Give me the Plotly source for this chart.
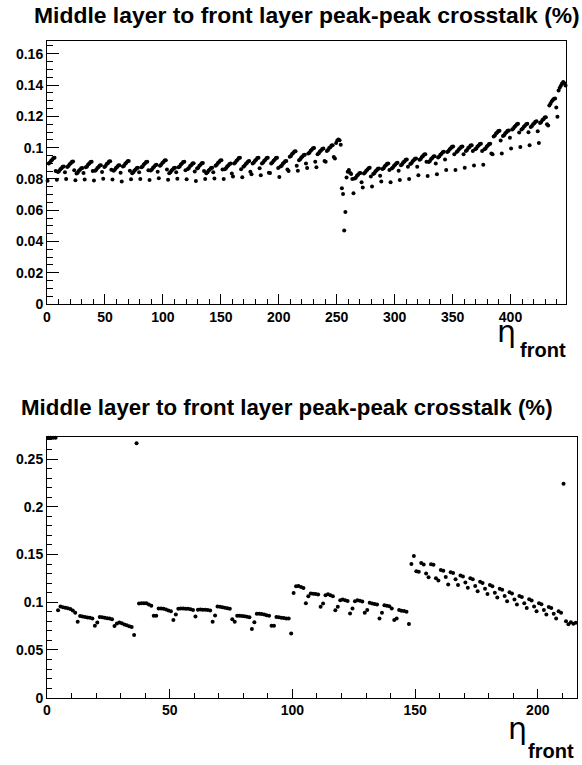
import plotly.graph_objects as go

# ---------------- data: top panel (448 front strips, 8 strips per row) ----------------
top_section_a = [  # channels 0-255
    [.0788, .0899, .0905, .0917, .0923, .0933, .0935, .0850],
    [.0795, .0844, .0850, .0862, .0868, .0878, .0880, .0842],
    [.0800, .0876, .0882, .0894, .0900, .0910, .0912, .0855],
    [.0792, .0834, .0840, .0852, .0858, .0868, .0870, .0838],
    [.0797, .0874, .0880, .0892, .0898, .0908, .0910, .0850],
    [.0790, .0852, .0858, .0870, .0876, .0886, .0888, .0845],
    [.0801, .0877, .0883, .0895, .0901, .0911, .0913, .0858],
    [.0796, .0852, .0858, .0870, .0876, .0886, .0888, .0840],
    [.0783, .0879, .0885, .0897, .0903, .0913, .0915, .0852],
    [.0798, .0836, .0842, .0854, .0860, .0870, .0872, .0843],
    [.0800, .0874, .0880, .0892, .0898, .0908, .0910, .0856],
    [.0793, .0854, .0860, .0872, .0878, .0888, .0890, .0846],
    [.0804, .0884, .0890, .0902, .0908, .0918, .0920, .0860],
    [.0795, .0836, .0842, .0854, .0860, .0870, .0872, .0842],
    [.0801, .0874, .0880, .0892, .0898, .0908, .0910, .0855],
    [.0798, .0864, .0870, .0882, .0888, .0898, .0900, .0848],
    [.0786, .0866, .0872, .0884, .0890, .0900, .0902, .0850],
    [.0800, .0836, .0842, .0854, .0860, .0870, .0872, .0842],
    [.0802, .0884, .0890, .0902, .0908, .0918, .0920, .0860],
    [.0800, .0862, .0868, .0880, .0886, .0896, .0898, .0835],
    [.0815, .0899, .0905, .0917, .0923, .0933, .0935, .0862],
    [.0810, .0878, .0884, .0896, .0902, .0912, .0914, .0846],
    [.0830, .0899, .0905, .0917, .0923, .0933, .0935, .0868],
    [.0823, .0899, .0905, .0917, .0923, .0933, .0935, .0840],
    [.0838, .0899, .0905, .0917, .0923, .0933, .0935, .0870],
    [.0813, .0879, .0885, .0897, .0903, .0913, .0915, .0860],
    [.0850, .0941, .0947, .0959, .0965, .0975, .0977, .0885],
    [.0852, .0919, .0925, .0937, .0943, .0953, .0955, .0899],
    [.0870, .0962, .0968, .0980, .0986, .0996, .0998, .0910],
    [.0874, .0958, .0964, .0976, .0982, .0992, .0994, .0915],
    [.0910, .0979, .0985, .0997, .1003, .1013, .1015, .0940],
    [.0931, .1030, .1045, .1052, .1048, .1019, .0741, .0703],
]
top_section_b = [  # channels 256-383
    [.0471, .0589, .0809, .0846, .0857, .0840, .0832, .0800],
    [.0709, .0802, .0808, .0820, .0826, .0836, .0838, .0779],
    [.0745, .0835, .0841, .0853, .0859, .0869, .0871, .0815],
    [.0752, .0831, .0837, .0849, .0855, .0865, .0867, .0820],
    [.0783, .0863, .0869, .0881, .0887, .0897, .0899, .0857],
    [.0779, .0867, .0873, .0885, .0891, .0901, .0903, .0853],
    [.0793, .0888, .0894, .0906, .0912, .0922, .0924, .0878],
    [.0800, .0895, .0901, .0913, .0919, .0929, .0931, .0878],
    [.0823, .0922, .0928, .0940, .0946, .0956, .0958, .0910],
    [.0819, .0909, .0915, .0927, .0933, .0943, .0945, .0899],
    [.0830, .0937, .0943, .0955, .0961, .0971, .0973, .0924],
    [.0857, .0972, .0978, .0990, .0996, .1006, .1008, .0958],
    [.0857, .0972, .0978, .0990, .0996, .1006, .1008, .0958],
    [.0872, .0979, .0985, .0997, .1003, .1013, .1015, .0979],
    [.0886, .0989, .0995, .1007, .1013, .1023, .1025, .0979],
    [.0890, .0989, .0995, .1007, .1013, .1023, .1025, .0962],
]
top_section_c = [  # channels 384-447
    [.0958, .1072, .1078, .1090, .1096, .1106, .1108, .1046],
    [.0962, .1074, .1080, .1092, .1098, .1108, .1110, .1063],
    [.0994, .1116, .1122, .1134, .1140, .1150, .1152, .1096],
    [.1004, .1116, .1122, .1134, .1140, .1150, .1152, .1099],
    [.1015, .1132, .1138, .1150, .1156, .1166, .1168, .1105],
    [.1029, .1158, .1164, .1176, .1182, .1192, .1194, .1150],
    [.1141, .1270, .1280, .1295, .1305, .1312, .1314, .1257],
    [.1198, .1365, .1383, .1395, .1410, .1419, .1412, .1398],
]

# ---------------- data: bottom panel (216 front strips) ----------------
bottom_section_d = [  # channels 0-35
    .2722, .2722, .2722, .2722, .0916, .0955, .0948, .0942, .0936, .0928,
    .0912, .0889, .0795, .0855, .0850, .0846, .0840, .0836, .0828, .0754,
    .0786, .0845, .0842, .0838, .0833, .0828, .0822, .0751, .0778, .0786,
    .0780, .0765, .0758, .0748, .0740, .0657,
]
bottom_section_e = [  # channels 36-99
    .2665, .0985, .0990, .0990, .0988, .0975, .0962, .0858, .0858, .0934,
    .0934, .0930, .0924, .0912, .0905, .0814, .0872, .0930, .0934, .0935,
    .0932, .0930, .0926, .0918, .0850, .0920, .0924, .0922, .0920, .0918,
    .0912, .0795, .0860, .0955, .0952, .0948, .0942, .0936, .0930, .0820,
    .0795, .0858, .0857, .0855, .0852, .0848, .0842, .0720, .0790, .0880,
    .0878, .0875, .0870, .0864, .0858, .0754, .0754, .0845, .0842, .0838,
    .0834, .0830, .0830, .0671,
]
bottom_section_f = [  # channels 100-147
    .1096, .1168, .1170, .1160, .1148, .0988, .1062, .1092, .1089, .1086,
    .1080, .0951, .0986, .1072, .1082, .1072, .1062, .0916, .0951, .1020,
    .1027, .1020, .1013, .0882, .0934, .1010, .1020, .1015, .1008, .0889,
    .0917, .0993, .0986, .0980, .0976, .0830, .0889, .0969, .0962, .0958,
    .0934, .0813, .0830, .0917, .0910, .0907, .0900, .0771,
]
bottom_section_g = [  # channels 148-215
    .1400, .1485, .1325, .1320, .1410, .1395, .1300, .1262, .1397, .1392,
    .1250, .1228, .1338, .1330, .1265, .1186, .1314, .1305, .1240, .1180,
    .1280, .1268, .1205, .1150, .1250, .1240, .1170, .1115, .1215, .1200,
    .1140, .1085, .1180, .1168, .1100, .1048, .1140, .1130, .1065, .1010,
    .1105, .1092, .1028, .0975, .1065, .1055, .0990, .0940, .1030, .1018,
    .0955, .0905, .0990, .0978, .0918, .0870, .0950, .0938, .0880, .0830,
    .0905, .0890, .2240, .0800, .0770, .0790, .0775, .0785,
]

title_text = "Middle layer to front layer peak-peak crosstalk (%)"
top_ticks_x = [0, 50, 100, 150, 200, 250, 300, 350, 400]
bottom_ticks_x = [0, 50, 100, 150, 200]

# ---------------- assemble ----------------
top_values = [v for sec in (top_section_a, top_section_b, top_section_c) for row in sec for v in row]
bottom_values = bottom_section_d + bottom_section_e + bottom_section_f + bottom_section_g
top_x = [i + 0.5 for i in range(len(top_values))]
bottom_x = [i + 0.5 for i in range(len(bottom_values))]

W, H = 582, 765
FONT = "Liberation Sans, Arial, sans-serif"

fig = go.Figure()
marker = dict(color="black", size=4, line=dict(width=0))
fig.add_trace(go.Scatter(x=top_x, y=top_values, mode="markers", marker=marker,
                         xaxis="x", yaxis="y", showlegend=False, cliponaxis=False))
fig.add_trace(go.Scatter(x=bottom_x, y=bottom_values, mode="markers", marker=marker,
                         xaxis="x2", yaxis="y2", showlegend=False, cliponaxis=False))

tickfont = dict(family=FONT, size=14, color="black", weight="bold")

def ax(**kw):
    base = dict(showline=True, mirror=True, linecolor="black", linewidth=1,
                showgrid=False, zeroline=False, ticks="inside", tickwidth=1,
                tickcolor="black", tickfont=tickfont)
    base.update(kw)
    return base

fig.update_layout(
    width=W, height=H, margin=dict(l=0, r=0, t=0, b=0),
    paper_bgcolor="white", plot_bgcolor="white",
    xaxis=ax(domain=[43.3 / W, 566 / W], range=[0, 448], anchor="y",
             tickvals=top_ticks_x, ticklen=10,
             minor=dict(dtick=10, ticklen=5, ticks="inside", tickcolor="black", tickwidth=1)),
    yaxis=ax(domain=[1 - 307.3 / H, 1 - 41.7 / H], range=[0, 0.168], anchor="x",
             dtick=0.02, ticklen=12,
             minor=dict(dtick=0.005, ticklen=6, ticks="inside", tickcolor="black", tickwidth=1)),
    xaxis2=ax(domain=[43.3 / W, 577 / W], range=[0, 216], anchor="y2",
              tickvals=bottom_ticks_x, ticklen=9,
              minor=dict(dtick=10, ticklen=5, ticks="inside", tickcolor="black", tickwidth=1)),
    yaxis2=ax(domain=[1 - 705 / H, 1 - 441.7 / H], range=[0, 0.273], anchor="x2",
              dtick=0.05, ticklen=11,
              minor=dict(dtick=0.01, ticklen=5, ticks="inside", tickcolor="black", tickwidth=1)),
)

annotations = [
    dict(text=title_text, x=305.5 / W, y=1 - 15 / H, xref="paper", yref="paper",
         xanchor="center", yanchor="middle", showarrow=False,
         font=dict(family=FONT, size=22.9, color="black", weight="bold")),
    dict(text=title_text, x=284.5 / W, y=1 - 412 / H, xref="paper", yref="paper",
         xanchor="center", yanchor="middle", showarrow=False,
         font=dict(family=FONT, size=22.3, color="black", weight="bold")),
    # x-axis titles: eta with subscript "front"
    dict(text="η", x=505.5 / W, y=1 - 340 / H, xref="paper", yref="paper",
         xanchor="center", yanchor="middle", showarrow=False, height=25, valign="bottom",
         font=dict(family="DejaVu Sans, sans-serif", size=30, color="black")),
    dict(text="front", x=542.5 / W, y=1 - 354 / H, xref="paper", yref="paper",
         xanchor="center", yanchor="middle", showarrow=False,
         font=dict(family=FONT, size=20, color="black", weight="bold")),
    dict(text="η", x=517 / W, y=1 - 741 / H, xref="paper", yref="paper",
         xanchor="center", yanchor="middle", showarrow=False, height=25, valign="bottom",
         font=dict(family="DejaVu Sans, sans-serif", size=30, color="black")),
    dict(text="front", x=551 / W, y=1 - 759 / H, xref="paper", yref="paper",
         xanchor="center", yanchor="middle", showarrow=False, height=18, valign="middle",
         font=dict(family=FONT, size=20, color="black", weight="bold")),
]
fig.update_layout(annotations=annotations)

fig.write_html("out.html")
